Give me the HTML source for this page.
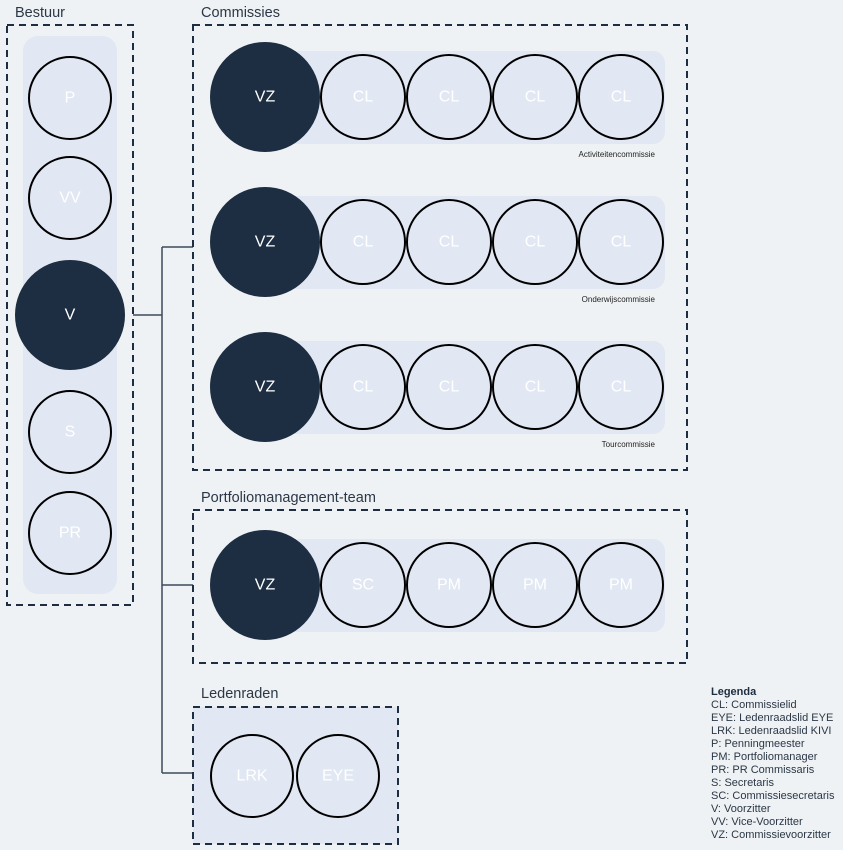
<!DOCTYPE html>
<html><head><meta charset="utf-8"><style>
html,body{margin:0;padding:0;background:#eff2f4;}
svg{display:block;font-family:"Liberation Sans",Arial,sans-serif;}
.t{font-size:14.5px;fill:#2b3746;}
.w{font-size:16px;fill:#fff;text-anchor:middle;dominant-baseline:central;}
.c{fill:#e1e8f3;stroke:#000;stroke-width:2;}
.d{fill:#1d2d42;}
.box{fill:none;stroke:#1d2d42;stroke-width:2;stroke-dasharray:7,5;}
.band{fill:#e1e8f3;}
.sm{font-size:8px;fill:#222;text-anchor:end;}
.lg{font-size:11px;fill:#2b3746;}
</style></head><body>
<svg width="843" height="850" viewBox="0 0 843 850">
<text class="t" x="15" y="17">Bestuur</text>
<text class="t" x="201" y="17">Commissies</text>
<text class="t" x="201" y="502">Portfoliomanagement-team</text>
<text class="t" x="201" y="698">Ledenraden</text>

<g stroke="#3d4a5c" stroke-width="1.5" fill="none">
<path d="M133 315H162M162 247V773M162 247H193M162 585H193M162 773H193"/>
</g>

<rect class="box" x="7" y="25" width="126" height="580"/>
<rect class="band" x="23" y="36" width="94" height="558" rx="15"/>
<circle class="c" cx="70" cy="98" r="41"/><text class="w" x="70" y="98">P</text>
<circle class="c" cx="70" cy="198" r="41"/><text class="w" x="70" y="198">VV</text>
<circle class="d" cx="70" cy="315" r="55"/><text class="w" x="70" y="315">V</text>
<circle class="c" cx="70" cy="432" r="41"/><text class="w" x="70" y="432">S</text>
<circle class="c" cx="70" cy="533" r="41"/><text class="w" x="70" y="533">PR</text>

<rect class="box" x="193" y="25" width="494" height="445"/>
<g id="r1">
<rect class="band" x="240" y="51" width="425" height="93" rx="12"/>
<circle class="d" cx="265" cy="97" r="55"/><text class="w" x="265" y="97">VZ</text>
<circle class="c" cx="363" cy="97" r="42"/><text class="w" x="363" y="97">CL</text>
<circle class="c" cx="449" cy="97" r="42"/><text class="w" x="449" y="97">CL</text>
<circle class="c" cx="535" cy="97" r="42"/><text class="w" x="535" y="97">CL</text>
<circle class="c" cx="621" cy="97" r="42"/><text class="w" x="621" y="97">CL</text>
</g>
<text class="sm" x="655" y="157">Activiteitencommissie</text>
<use href="#r1" y="145"/>
<text class="sm" x="655" y="302">Onderwijscommissie</text>
<use href="#r1" y="290"/>
<text class="sm" x="655" y="447">Tourcommissie</text>

<rect class="box" x="193" y="510" width="494" height="153"/>
<rect class="band" x="240" y="539" width="425" height="93" rx="12"/>
<circle class="d" cx="265" cy="585" r="55"/><text class="w" x="265" y="585">VZ</text>
<circle class="c" cx="363" cy="585" r="42"/><text class="w" x="363" y="585">SC</text>
<circle class="c" cx="449" cy="585" r="42"/><text class="w" x="449" y="585">PM</text>
<circle class="c" cx="535" cy="585" r="42"/><text class="w" x="535" y="585">PM</text>
<circle class="c" cx="621" cy="585" r="42"/><text class="w" x="621" y="585">PM</text>

<rect x="193" y="707" width="205" height="137" fill="#e1e8f3"/>
<rect class="box" x="193" y="707" width="205" height="137"/>
<circle class="c" cx="252" cy="776" r="41"/><text class="w" x="252" y="776">LRK</text>
<circle class="c" cx="338" cy="776" r="41"/><text class="w" x="338" y="776">EYE</text>

<g class="lg">
<text x="711" y="695" font-weight="bold" fill="#1d2d42">Legenda</text>
<text x="711" y="708">CL: Commissielid</text>
<text x="711" y="721">EYE: Ledenraadslid EYE</text>
<text x="711" y="734">LRK: Ledenraadslid KIVI</text>
<text x="711" y="747">P: Penningmeester</text>
<text x="711" y="760">PM: Portfoliomanager</text>
<text x="711" y="773">PR: PR Commissaris</text>
<text x="711" y="786">S: Secretaris</text>
<text x="711" y="799">SC: Commissiesecretaris</text>
<text x="711" y="812">V: Voorzitter</text>
<text x="711" y="825">VV: Vice-Voorzitter</text>
<text x="711" y="838">VZ: Commissievoorzitter</text>
</g>
</svg>
</body></html>
